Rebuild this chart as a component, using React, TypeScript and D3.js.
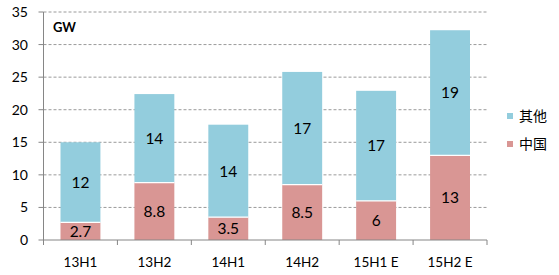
import React from "react";
import * as d3 from "d3";

const categories = ["13H1", "13H2", "14H1", "14H2", "15H1 E", "15H2 E"];
const chinaValues = [2.7, 8.8, 3.5, 8.5, 6, 13];
const otherValues = [12.3, 13.6, 14.2, 17.3, 16.9, 19.2];
const chinaLabels = ["2.7", "8.8", "3.5", "8.5", "6", "13"];
const otherLabels = ["12", "14", "14", "17", "17", "19"];
const yTicks = [0, 5, 10, 15, 20, 25, 30, 35];
const seriesNames = ["其他", "中国"];

const W = 559;
const H = 275;
const left = 43.5;
const right = 487;
const top = 12;
const bottom = 240;

const BLUE = "#93CDDD";
const RED = "#D99694";
const FONT = "Lato, 'Liberation Sans', sans-serif";

export default function App() {
  const x = d3.scaleBand().domain(categories).range([left, right]).paddingInner(0.46).paddingOuter(0.23);
  const y = d3.scaleLinear().domain([0, 35]).range([bottom, top]);
  const bounds = d3.range(categories.length + 1).map((i) => left + ((right - left) * i) / categories.length);

  return (
    <svg width={W} height={H} style={{ position: "absolute", left: 0, top: 0 }}>
      <rect width={W} height={H} fill="#fff" />
      {yTicks.filter((t) => t > 0).map((t) => (
        <line key={"g" + t} x1={left} x2={right} y1={y(t)} y2={y(t)} stroke="#9a9a9a" strokeWidth={1} strokeDasharray="3,2" />
      ))}
      {yTicks.map((t) => (
        <g key={"t" + t}>
          <line x1={left - 5} x2={left} y1={y(t)} y2={y(t)} stroke="#868686" />
          <text x={28} y={y(t)} dy="0.36em" textAnchor="end" fontFamily={FONT} fontSize={14} fill="#000">{t}</text>
        </g>
      ))}
      {categories.map((c, i) => {
        const bx = x(c)!;
        const bw = x.bandwidth();
        const ch = chinaValues[i];
        const ot = otherValues[i];
        return (
          <g key={c}>
            <rect x={bx} y={y(ch)} width={bw} height={y(0) - y(ch)} fill={RED} />
            <rect x={bx} y={y(ch + ot)} width={bw} height={y(ch) - y(ch + ot)} fill={BLUE} />
            <line x1={bx} x2={bx + bw} y1={y(ch)} y2={y(ch)} stroke="#fff" strokeWidth={1.2} />
            <text x={bx + bw / 2} y={y(ch / 2)} dy="0.36em" textAnchor="middle" fontFamily={FONT} fontSize={15.5} fill="#000">{chinaLabels[i]}</text>
            <text x={bx + bw / 2} y={y(ch + ot / 2)} dy="0.36em" textAnchor="middle" fontFamily={FONT} fontSize={15.5} fill="#000">{otherLabels[i]}</text>
            <text x={bx + bw / 2} y={267} textAnchor="middle" fontFamily={FONT} fontSize={13.5} fill="#000">{c}</text>
          </g>
        );
      })}
      <line x1={left} x2={left} y1={top} y2={bottom} stroke="#868686" />
      <line x1={left} x2={right} y1={bottom} y2={bottom} stroke="#868686" />
      {bounds.map((b, i) => (
        <line key={"b" + i} x1={b} x2={b} y1={bottom} y2={bottom + 5} stroke="#868686" />
      ))}
      <text x={53} y={32} fontFamily={FONT} fontSize={13} fontWeight="bold" fill="#000">GW</text>
      {seriesNames.map((s, i) => (
        <g key={s}>
          <rect x={507} y={(i === 0 ? 116 : 144) - 3} width={6} height={6} fill={i === 0 ? BLUE : RED} />
          <text x={519} y={i === 0 ? 116 : 144} dy="0.36em" fontFamily="'Noto Sans CJK SC', sans-serif" fontSize={14} fill="#000">{s}</text>
        </g>
      ))}
    </svg>
  );
}
